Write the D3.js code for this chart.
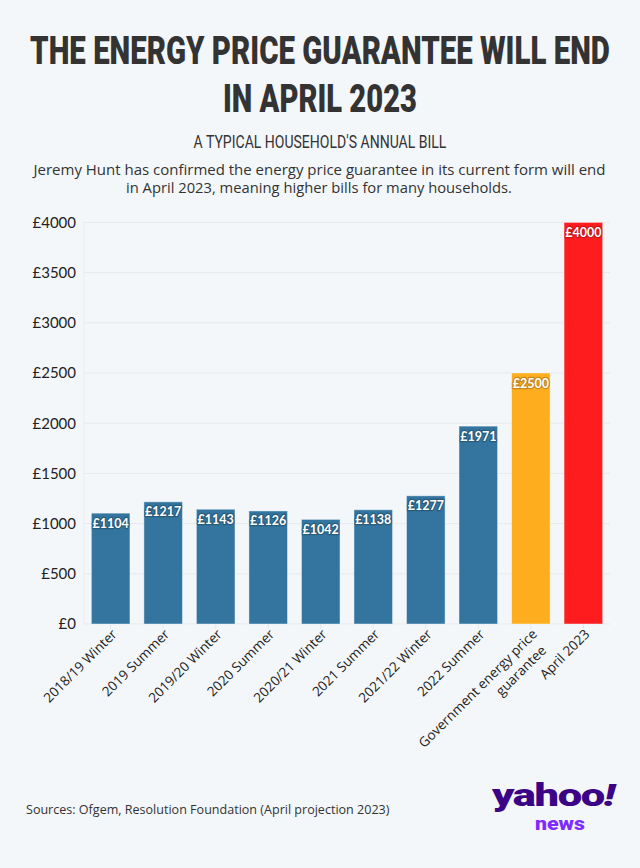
<!DOCTYPE html>
<html>
<head>
<meta charset="utf-8">
<script src="https://cdn.jsdelivr.net/npm/d3@7"></script>
<style>
  html, body { margin: 0; padding: 0; background: #f4f7fa; }
  svg { display: block; }
</style>
</head>
<body>
<script>
// ---- data ----
const categories = ["2018/19 Winter", "2019 Summer", "2019/20 Winter", "2020 Summer", "2020/21 Winter",
  "2021 Summer", "2021/22 Winter", "2022 Summer", "Government energy price\nguarantee", "April 2023"];
const values = [1104, 1217, 1143, 1126, 1042, 1138, 1277, 1971, 2500, 4000];
const barColors = ["#33759e", "#33759e", "#33759e", "#33759e", "#33759e", "#33759e", "#33759e", "#33759e", "#fdad1e", "#fe1c1f"];
const yTicks = [0, 500, 1000, 1500, 2000, 2500, 3000, 3500, 4000];

(function () {
const W = 640, H = 868;
const svg = d3.select("body").append("svg").attr("width", W).attr("height", H);
svg.append("rect").attr("width", W).attr("height", H).attr("fill", "#f4f7fa");

// place a text so it spans a given width (horizontal scaling), anchored by cx or left x
function fitText(sel, anchorX, baseY, width, anchor) {
  sel.attr("x", 0).attr("y", 0).attr("text-anchor", anchor);
  const w = sel.node().getComputedTextLength();
  sel.attr("transform", `translate(${anchorX},${baseY}) scale(${width / w},1)`);
  return sel;
}

// ---- titles ----
const title = svg.append("g").attr("fill", "#333333").attr("font-family", "Roboto, 'Open Sans', sans-serif")
  .attr("font-weight", 900).attr("font-size", 38);
fitText(title.append("text").text("THE ENERGY PRICE GUARANTEE WILL END"), 320, 64, 580, "middle");
fitText(title.append("text").text("IN APRIL 2023"), 320, 112, 194, "middle");

fitText(svg.append("text").attr("font-family", "Roboto, sans-serif").attr("font-size", 18).attr("fill", "#333")
  .text("A TYPICAL HOUSEHOLD'S ANNUAL BILL"), 320, 148, 253, "middle");

// description: one text, two lines
const desc = svg.append("text").attr("font-family", "'Open Sans', sans-serif").attr("font-size", 15)
  .attr("fill", "#333").attr("text-anchor", "middle");
desc.append("tspan").attr("x", 319.5).attr("y", 175).attr("textLength", 572).attr("lengthAdjust", "spacingAndGlyphs")
  .text("Jeremy Hunt has confirmed the energy price guarantee in its current form will end");
desc.append("tspan").attr("x", 319).attr("y", 193.3).attr("textLength", 386).attr("lengthAdjust", "spacingAndGlyphs")
  .text("in April 2023, meaning higher bills for many households.");

// ---- scales ----
const pL = 84, pR = 610, pT = 222.4, pB = 624;
const x = d3.scaleBand().domain(categories).range([pL, pR]).paddingInner(0.265).paddingOuter(0.14);
const y = d3.scaleLinear().domain([0, 4000]).range([pB, pT]);

// grid
const grid = svg.append("g");
grid.selectAll("line.h").data(yTicks).join("line")
  .attr("x1", pL).attr("x2", pR).attr("y1", d => y(d)).attr("y2", d => y(d))
  .attr("stroke", "#e6e9ed").attr("stroke-width", 1);
grid.append("line").attr("x1", pL).attr("x2", pL).attr("y1", pT).attr("y2", pB)
  .attr("stroke", "#e9ecef").attr("stroke-width", 1);

// y axis
const yAxis = svg.append("g").attr("transform", `translate(${pL},0)`)
  .call(d3.axisLeft(y).tickValues(yTicks).tickSize(0).tickPadding(8).tickFormat(d => "£" + d));
yAxis.select(".domain").remove();
yAxis.selectAll("text").attr("font-family", "Lato, sans-serif").attr("font-size", 15).attr("fill", "#222");

// x axis
const xAxis = svg.append("g").attr("transform", `translate(0,${pB})`)
  .call(d3.axisBottom(x).tickSize(5).tickFormat(""));
xAxis.select(".domain").remove();
xAxis.selectAll(".tick line").attr("stroke", "#e3e6ea");
xAxis.selectAll(".tick").each(function(d) {
  const lines = d.split("\n");
  const t = d3.select(this).append("text")
    .attr("font-family", "'Open Sans', sans-serif").attr("font-size", 13.5).attr("fill", "#222")
    .attr("text-anchor", "end")
    .attr("transform", "translate(7,11) rotate(-45)");
  lines.forEach((l, i) => {
    t.append("tspan").attr("x", i === 0 ? 0 : -5).attr("y", i * 18).text(l);
  });
});

// bars
svg.append("g").selectAll("rect").data(values).join("rect")
  .attr("x", (d, i) => x(categories[i]))
  .attr("width", x.bandwidth())
  .attr("y", d => y(d))
  .attr("height", d => y(0) - y(d))
  .attr("fill", (d, i) => barColors[i])
  .attr("stroke", "rgba(255,255,255,0.45)").attr("stroke-width", 1);

// value labels
const lab = svg.append("g").attr("font-family", "Lato, sans-serif").attr("font-weight", 700)
  .attr("font-size", 12.5).attr("text-anchor", "middle");
lab.selectAll("text.halo").data(values).join("text").attr("class", "halo")
  .attr("x", (d, i) => x(categories[i]) + x.bandwidth() / 2)
  .attr("y", d => y(d) + 14.5)
  .attr("fill", "none").attr("stroke", (d, i) => d3.color(barColors[i]).darker(1.2)).attr("stroke-width", 2.5)
  .attr("stroke-opacity", 0.6).attr("stroke-linejoin", "round")
  .text(d => "£" + d);
lab.selectAll("text.val").data(values).join("text").attr("class", "val")
  .attr("x", (d, i) => x(categories[i]) + x.bandwidth() / 2)
  .attr("y", d => y(d) + 14.5)
  .attr("fill", "#fff")
  .text(d => "£" + d);

// footer
fitText(svg.append("text").attr("font-family", "'Open Sans', sans-serif").attr("font-size", 13).attr("fill", "#333")
  .text("Sources: Ofgem, Resolution Foundation (April projection 2023)"), 26, 814, 364, "start");

// logo
const logo = svg.append("text")
  .attr("font-family", "Roboto, sans-serif").attr("font-weight", 900).attr("font-size", 31)
  .attr("fill", "#3b0386").attr("letter-spacing", -1);
logo.append("tspan").text("yahoo");
logo.append("tspan").attr("font-style", "italic").text("!");
fitText(logo, 492, 806, 122, "start");
fitText(svg.append("text")
  .attr("font-family", "Roboto, sans-serif").attr("font-weight", 900).attr("font-size", 18)
  .attr("fill", "#7e2cff").text("news"), 535, 830, 50, "start");
})();
</script>
</body>
</html>
